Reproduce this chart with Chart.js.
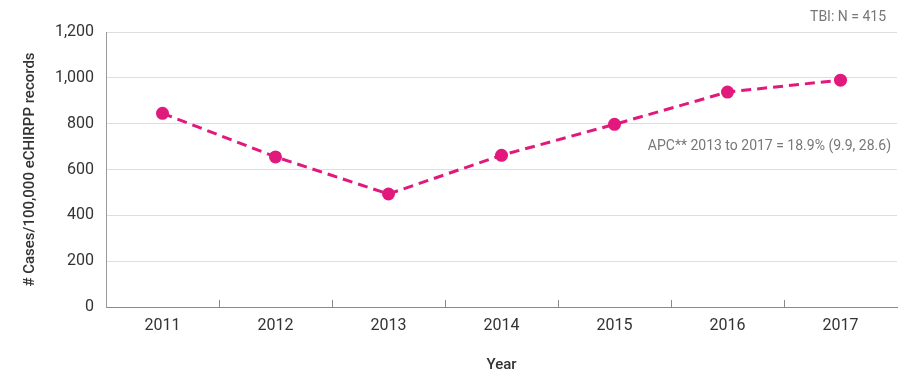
<!DOCTYPE html>
<html>
<head>
<meta charset="utf-8">
<script src="https://cdn.jsdelivr.net/npm/chart.js@4/dist/chart.umd.min.js"></script>
<style>
html,body{margin:0;padding:0;background:#fff;}
#wrap{width:908px;height:380px;position:relative;}
</style>
</head>
<body>
<div id="wrap"><canvas id="c" width="908" height="380"></canvas></div>
<script>
const years = ["2011","2012","2013","2014","2015","2016","2017"];
const rates = [845, 655, 493, 662, 797, 938, 990];
const yTicks = [0, 200, 400, 600, 800, 1000, 1200];
const yTitle = "# Cases/100,000 eCHIRPP records";
const xTitle = "Year";
const noteTop = "TBI: N = 415";
const noteApc = "APC** 2013 to 2017 = 18.9% (9.9, 28.6)";

const PINK = "#E2197C";
const FONT = "Roboto, 'DejaVu Sans', sans-serif";

const extras = {
  id: "extras",
  afterDraw(chart) {
    const ctx = chart.ctx;
    const x = chart.scales.x, y = chart.scales.y;
    const ca = chart.chartArea;
    ctx.save();
    ctx.strokeStyle = "#8a8a8a";
    ctx.lineWidth = 1;
    for (let i = 0; i < years.length - 1; i++) {
      const px = Math.round((x.getPixelForValue(i) + x.getPixelForValue(i + 1)) / 2) + 0.5;
      ctx.beginPath();
      ctx.moveTo(px, ca.bottom);
      ctx.lineTo(px, ca.bottom - 7);
      ctx.stroke();
    }
    ctx.fillStyle = "#777";
    ctx.font = "14px " + FONT;
    ctx.textAlign = "right";
    ctx.textBaseline = "middle";
    ctx.fillText(noteTop, ca.right - 11, 17);
    ctx.fillText(noteApc, ca.right - 6, y.getPixelForValue(700));
    ctx.restore();
  }
};

new Chart(document.getElementById("c"), {
  type: "line",
  data: {
    labels: years,
    datasets: [{
      data: rates,
      borderColor: PINK,
      backgroundColor: PINK,
      borderWidth: 3,
      borderDash: [10, 6],
      pointRadius: 6.5,
      pointHoverRadius: 6.5,
      pointBackgroundColor: PINK,
      pointBorderWidth: 0,
      tension: 0,
      fill: false
    }]
  },
  options: {
    responsive: false,
    animation: false,
    devicePixelRatio: 1,
    layout: { padding: { top: 32, right: 11, left: 0, bottom: 0 } },
    plugins: { legend: { display: false }, tooltip: { enabled: false } },
    scales: {
      x: {
        type: "category",
        offset: true,
        grid: { display: false, drawTicks: false },
        border: { display: true, color: "#8a8a8a", width: 1 },
        ticks: { color: "#333", font: { family: FONT, size: 16 }, padding: 9, maxRotation: 0 },
        title: { display: true, text: xTitle, color: "#333", font: { family: FONT, size: 15, weight: "500" }, padding: { top: 0, bottom: 6 } },
        afterFit(s) { s.height = 73; }
      },
      y: {
        min: 0, max: 1200,
        afterBuildTicks(s) { s.ticks = yTicks.map(v => ({ value: v })); },
        grid: { color: "#dedede", drawTicks: false, lineWidth: 1 },
        border: { display: true, color: "#9a9a9a", width: 1 },
        ticks: {
          color: "#333", font: { family: FONT, size: 16 }, padding: 12,
          callback: v => v.toLocaleString("en-US")
        },
        title: { display: true, text: yTitle, color: "#333", font: { family: FONT, size: 15, weight: "500" }, padding: { top: 21, bottom: 0 } },
        afterFit(s) { s.width = 106; }
      }
    }
  },
  plugins: [extras]
});
</script>
</body>
</html>
